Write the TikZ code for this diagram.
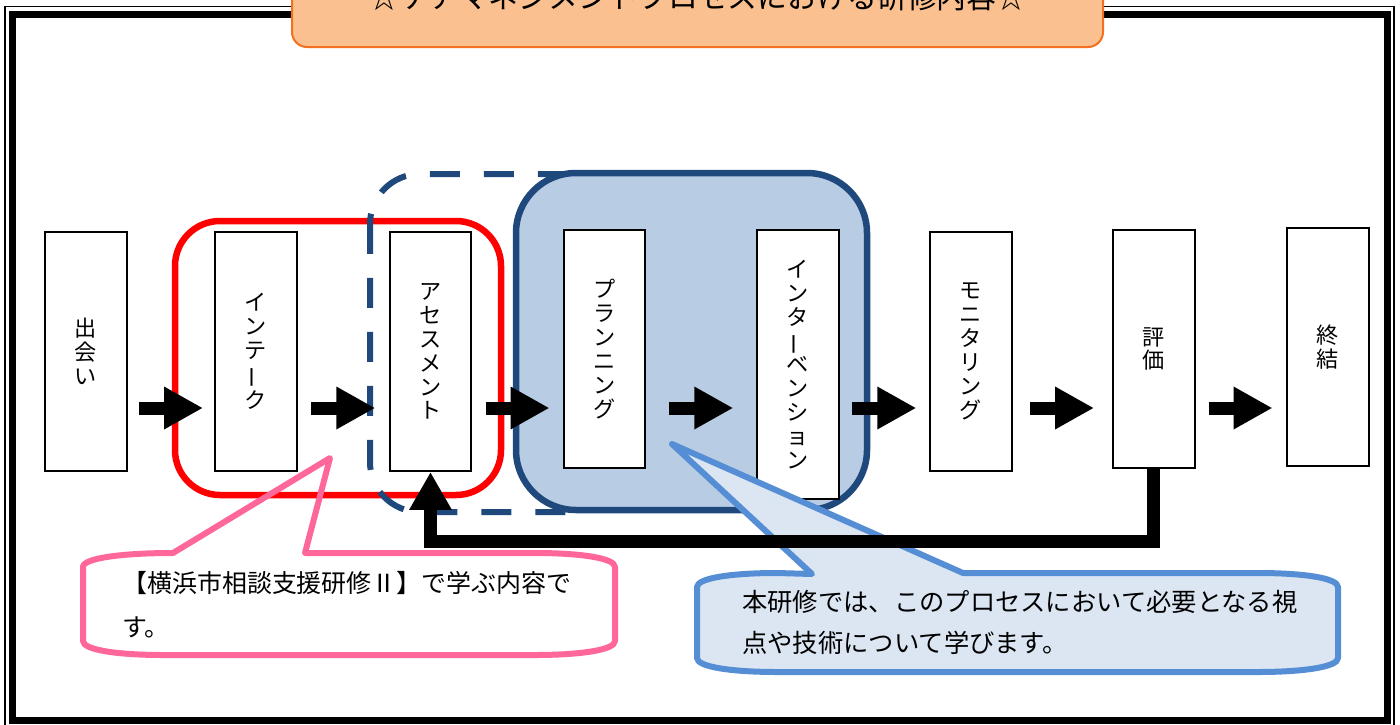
\documentclass[tikz,border=0pt]{standalone}
\usepackage{fontspec}
\setmainfont{Noto Sans CJK JP}
\usetikzlibrary{calc}
\usetikzlibrary{arrows.meta}
\definecolor{navy}{RGB}{31,73,125}
\definecolor{boxblue}{RGB}{184,204,228}
\definecolor{titlefill}{RGB}{250,192,144}
\definecolor{titleline}{RGB}{245,112,30}
\definecolor{pinkline}{RGB}{255,102,153}
\definecolor{calloutline}{RGB}{85,142,213}
\definecolor{calloutfill}{RGB}{220,230,242}
\newcommand{\chouon}{\rotatebox[origin=c]{90}{ー}}

\begin{document}
\begin{tikzpicture}[x=0.02cm,y=-0.02cm,
    stage/.style={draw,fill=white,line width=0.04cm,minimum width=1.64cm,minimum height=4.78cm,
      inner sep=0pt,align=center,font=\fontsize{12.6}{13.6}\selectfont},
    blockarrow/.style={line width=0.26cm,-{Triangle[length=0.78cm,width=0.8cm]}},
    callout/.style={line width=0.12cm,line join=round}]
    \useasboundingbox (0,0) rectangle (1400,724);
    % frame and title
    \draw[line width=0.03cm] (5,6.5) rectangle (1394,728);
    \draw[line width=0.14cm] (12.5,14) rectangle (1387,720.5);
    \draw[titleline,fill=titlefill,line width=0.04cm,rounded corners=0.3cm] (292,-40) rectangle (1103,47);
    \node[font=\fontsize{17}{20}\selectfont] (title) at (698,-3) {☆ケアマネジメントプロセスにおける研修内容☆};
    % groups
    \draw[red,line width=0.13cm,rounded corners=0.9cm] (175,221) rectangle (501,495);
    \draw[navy,line width=0.12cm,dash pattern=on 0.6cm off 0.48cm,rounded corners=1cm] (370,174) rectangle (620,512);
    \draw[navy,fill=boxblue,line width=0.13cm,rounded corners=1.2cm] (516,173) rectangle (867,510);
    % stages
    \node[stage] (deai) at (86,351.5) {出\\会\\い};
    \node[stage] (intake) at (256,351.5) {イ\\ン\\テ\\\chouon\\ク};
    \node[stage] (assess) at (430.5,351.5) {ア\\セ\\ス\\メ\\ン\\ト};
    \node[stage] (plan) at (604.5,349) {プ\\ラ\\ン\\ニ\\ン\\グ};
    \node[stage,minimum height=5.38cm] (interv) at (798,364.5) {イ\\ン\\タ\\\chouon\\ベ\\ン\\シ\\ョ\\ン};
    \node[stage] (monitor) at (970.5,351.5) {モ\\ニ\\タ\\リ\\ン\\グ};
    \node[stage] (hyoka) at (1153.5,349) {評\\価};
    \node[stage] (shuketsu) at (1327.5,347) {終\\結};
    \coordinate (flow) at (0,408);
    \foreach \a/\b in {deai/intake,intake/assess,assess/plan,plan/interv,interv/monitor,monitor/hyoka,hyoka/shuketsu}
      \draw[blockarrow] ($(\a.east |- flow)!0.5!(\b.west |- flow)+(-32,0)$) -- ++(64,0);
    % callouts
    \draw[callout,pinkline] (173,553) -- (330,458) -- (305,553) -- (535,553)
      .. controls (580,553) and (615,558) .. (615,567) -- (615,641)
      .. controls (615,650) and (580,655) .. (535,655) -- (163,655)
      .. controls (118,655) and (83,650) .. (83,641) -- (83,567)
      .. controls (83,558) and (123,553) .. (173,553) -- cycle;
    \node[anchor=west,align=left,inner sep=0pt,font=\fontsize{14.2}{25}\selectfont] (pinktext) at (122,605)
      {【横浜市相談支援研修Ⅱ】で学ぶ内容で\\す。};
    \draw[callout,calloutline,fill=calloutfill] (812,574) -- (672,444) -- (963,573) -- (1258,573)
      .. controls (1303,573) and (1338,578) .. (1338,587) -- (1338,658)
      .. controls (1338,667) and (1303,672) .. (1258,672) -- (777,672)
      .. controls (732,672) and (697,667) .. (697,658) -- (697,587)
      .. controls (697,578) and (732,573) .. (777,573) -- cycle;
    \node[anchor=west,align=left,inner sep=0pt,font=\fontsize{14.4}{23.3}\selectfont] (bluetext) at (742,622.5)
      {本研修では、このプロセスにおいて必要となる視\\点や技術について学びます。};
    % feedback
    \draw[line width=0.26cm,line join=miter,-{Triangle[length=0.76cm,width=0.8cm]}] (hyoka.south) -- ++(0,72) -| (assess.south);
\end{tikzpicture}
\end{document}
